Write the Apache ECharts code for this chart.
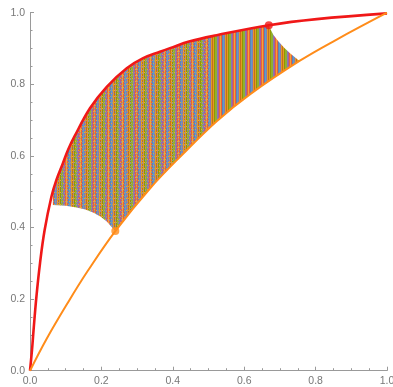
<!DOCTYPE html>
<html><head><meta charset="utf-8">
<script src="https://cdn.jsdelivr.net/npm/echarts@6/dist/echarts.min.js"></script>
<style>html,body{margin:0;padding:0;background:#fff}#c{width:393px;height:387px}</style>
</head><body><div id="c"></div>
<script>
// Upper (red) curve
const redX = [0, 0.0056, 0.010, 0.018, 0.028, 0.041, 0.060, 0.074, 0.092, 0.107, 0.125, 0.168, 0.215, 0.271, 0.317, 0.364, 0.392, 0.448, 0.523, 0.669, 0.803, 1.0];
const redY = [0, 0.058, 0.114, 0.207, 0.300, 0.393, 0.486, 0.533, 0.579, 0.618, 0.655, 0.733, 0.793, 0.845, 0.873, 0.891, 0.901, 0.920, 0.937, 0.965, 0.982, 0.998];
// Lower (orange) curve
const orangeX = [0, 0.046, 0.106, 0.162, 0.239, 0.336, 0.429, 0.523, 0.616, 0.756, 0.859, 1.0];
const orangeY = [0, 0.088, 0.190, 0.279, 0.390, 0.509, 0.606, 0.697, 0.772, 0.866, 0.925, 1.0];
// Hatched region: upper boundary (left edge, red curve, right cap)
const hatchTopX = [0.064, 0.064, 0.074, 0.092, 0.107, 0.125, 0.168, 0.215, 0.271, 0.317, 0.364, 0.392, 0.448, 0.523, 0.669, 0.674, 0.682, 0.695, 0.712, 0.730, 0.754];
const hatchTopY = [0.463, 0.499, 0.533, 0.579, 0.618, 0.655, 0.733, 0.793, 0.845, 0.873, 0.891, 0.901, 0.920, 0.937, 0.965, 0.953, 0.938, 0.921, 0.902, 0.885, 0.866];
// Hatched region: lower boundary from right to left (orange curve, inner arc)
const hatchBotX = [0.754, 0.616, 0.523, 0.429, 0.336, 0.239, 0.228, 0.215, 0.198, 0.178, 0.155, 0.130, 0.100, 0.064];
const hatchBotY = [0.866, 0.772, 0.697, 0.606, 0.509, 0.390, 0.402, 0.417, 0.430, 0.441, 0.450, 0.456, 0.461, 0.463];
// Marked points
const redPoint = [0.669, 0.965];
const orangePoint = [0.239, 0.390];
const ticks = [0, 0.2, 0.4, 0.6, 0.8, 1.0];

const palette = ['#8778B3','#E19C24','#8FB032','#EB6235','#5E81B5','#E19C24','#929600','#8778B3','#F0A43A','#5D9EC7','#C56E1A','#8FB032','#A5609D','#EB6235'];
function makePattern(){
  const w = 393, h = 12;
  const cv = document.createElement('canvas');
  cv.width = w; cv.height = h;
  const ctx = cv.getContext('2d');
  for (let px = 0; px < w; px++) {
    const col = palette[(px * 5) % palette.length];
    ctx.fillStyle = col;
    ctx.fillRect(px, 0, 1, h);
    if (px < 210) {
      for (let r = 0; r < h; r++) {
        if (r % 3 === 0 && (px + r) % 2 === 0) {
          ctx.fillStyle = (px % 3 === 0) ? '#E9A33A' : '#A89A7A';
          ctx.fillRect(px, r, 1, 1);
        } else if (r % 3 === 1 && px % 3 === 1) {
          ctx.fillStyle = '#8A86AE';
          ctx.fillRect(px, r, 1, 1);
        }
      }
    }
  }
  return cv;
}
const pattern = makePattern();

const chart = echarts.init(document.getElementById('c'), null, {renderer: 'canvas'});
const axisCommon = {
  type: 'value', min: 0, max: 1, interval: 0.2,
  axisLine: {show: true, lineStyle: {color: '#9a9a9a', width: 1}},
  axisTick: {show: true, inside: true, length: 4, lineStyle: {color: '#9a9a9a'}},
  minorTick: {show: true, splitNumber: 4, length: 2.5, lineStyle: {color: '#9a9a9a'}},
  splitLine: {show: false},
  axisLabel: {color: '#777', fontSize: 10.5, fontFamily: 'Liberation Sans, Arial, sans-serif', formatter: v => v.toFixed(1), margin: 5}
};
chart.setOption({
  animation: false,
  grid: {left: 30, right: 6, top: 12.7, bottom: 16.3, containLabel: false, outerBoundsMode: 'none'},
  xAxis: Object.assign({}, axisCommon, {axisLabel: Object.assign({}, axisCommon.axisLabel, {showMaxLabel: true})}),
  yAxis: Object.assign({}, axisCommon),
  series: [
    {
      type: 'custom', z: 1,
      data: [[0, 0]],
      renderItem: function(params, api) {
        const pts = [];
        hatchTopX.forEach((x, i) => pts.push(api.coord([x, hatchTopY[i]])));
        hatchBotX.forEach((x, i) => pts.push(api.coord([x, hatchBotY[i]])));
        return {type: 'polygon', shape: {points: pts}, style: {fill: {image: pattern, repeat: 'repeat'}, stroke: null}};
      }
    },
    {
      type: 'line', z: 3, showSymbol: false, smooth: 0.4,
      data: redX.map((x, i) => [x, redY[i]]),
      lineStyle: {color: '#f01818', width: 2.6}
    },
    {
      type: 'line', z: 3, showSymbol: false, smooth: 0.4,
      data: orangeX.map((x, i) => [x, orangeY[i]]),
      lineStyle: {color: '#ff8c1a', width: 2}
    },
    {
      type: 'scatter', z: 5, symbolSize: 8,
      data: [redPoint], itemStyle: {color: '#f01818'}
    },
    {
      type: 'scatter', z: 5, symbolSize: 8,
      data: [orangePoint], itemStyle: {color: '#ff8c1a'}
    }
  ]
});
</script>
</body></html>
